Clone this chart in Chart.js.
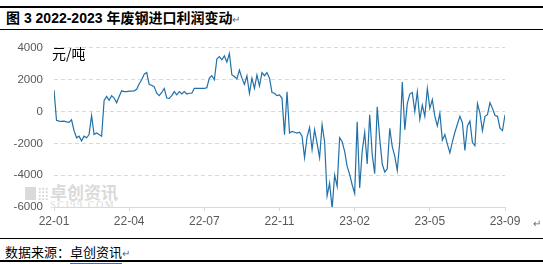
<!DOCTYPE html>
<html>
<head>
<meta charset="utf-8">
<script src="https://cdn.jsdelivr.net/npm/chart.js"></script>
<style>
  body { margin: 0; width: 543px; height: 264px; background: #fff; position: relative; overflow: hidden;
         font-family: "Liberation Sans", "Noto Sans CJK SC", sans-serif; }
  .rule { position: absolute; left: 0; width: 543px; background: #000; }
  .title { position: absolute; left: 6px; top: 10px; font-size: 14px; line-height: 16px; font-weight: bold; color: #000; white-space: nowrap; }
  .mark { font-weight: normal; font-size: 10px; color: #666; }
  .unit { position: absolute; left: 52px; top: 45px; font: 14px/16px "Noto Sans CJK SC", sans-serif; color: #000; }
  .wm { position: absolute; color: #dadada; white-space: nowrap; }
  .logo1 { position: absolute; left: 25px; top: 187px; width: 11px; height: 13px; background: #dadada; }
  .logo2 { position: absolute; left: 38px; top: 187px; width: 10px; height: 13px;
           background-image: radial-gradient(#d2d2d2 1.2px, transparent 1.3px); background-size: 3.5px 3.5px; }
  #wrap { position: absolute; left: 0; top: 30px; width: 543px; height: 200px; }
  .foot { position: absolute; left: 5px; top: 244px; font: 13px/16px "Noto Sans CJK SC", sans-serif; color: #000; white-space: nowrap; }
  .src { border-bottom: 3px double #3b68d8; }
</style>
</head>
<body>
<div class="rule" style="top:6px;height:2px"></div>
<div class="title">图 3 2022-2023 年废钢进口利润变动<span class="mark">↵</span></div>
<div class="rule" style="top:29px;height:1px"></div>

<div class="logo1"></div>
<div class="logo2"></div>
<div class="wm" style="left:50px;top:182px;font:bold 17px/20px 'Noto Sans CJK SC',sans-serif;">卓创资讯</div>
<div class="wm" style="left:50px;top:199px;font:10px/11px 'Liberation Serif',serif;letter-spacing:1.6px;">SCI99.COM</div>

<div id="wrap"><canvas id="grafico" width="543" height="200"></canvas></div>
<div class="unit">元/吨</div>
<div class="wm" style="left:533px;top:218px;font-size:10px;color:#666;">↵</div>

<div class="rule" style="top:238px;height:1px"></div>
<div class="foot">数据来源：<span class="src">卓创资讯</span><span class="mark">↵</span></div>
<div class="rule" style="top:260px;height:1.5px"></div>

<script>
// rótulos do eixo x, um a cada 30 pontos
const xTickLabels = ['22-01', '22-04', '22-07', '22-11', '23-02', '23-05', '23-09'];
const passoTicks = 30;

// lucro de importação de sucata (元/吨)
const lucro = [
  1350, -550, -600, -620, -600, -650, -680, -520, -1200, -1650,
  -1550, -1850, -1550, -1650, -1450, -250, -1450, -1350, -1450, -1550,
  700, 950, 700, 1000, 850, 550, 950, 1300, 1250, 1250,
  1280, 1280, 1300, 1400, 1750, 2000, 2350, 2450, 1700, 1650,
  1550, 1150, 1000, 1200, 1450, 850, 830, 1000, 1250, 1050,
  1250, 1100, 1250, 1100, 1150, 1150, 1450, 1450, 1450, 1450,
  1450, 1500, 2100, 2250, 2000, 3300, 3450, 3250, 3500, 3100,
  3650, 2300, 2200, 2050, 2600, 2100, 1700, 2250, 1150, 2100,
  1450, 2300, 1600, 2450, 2250, 2450, 2100, 1200, 1150, 1000,
  1050, 830, -1450, 1240, -1350, -1250, -1300, -1350, -1300, -1550,
  -2900, -1600, -1000, -2400, -1140, -2000, -2900, -830, -1900, -5300,
  -4500, -6100, -4000, -4700, -1650, -1900, -2500, -3450, -3950, -4600,
  -5150, -650, -4800, -2500, -1300, -3300, -200, -2700, -3900, 300,
  -1700, -3300, -3800, -3600, -1050, -2200, -2800, -3700, -1900, 1850,
  -1150, 500, 1100, 1200, 0, 1240, -500, 400, -300, 1450,
  200, 750, -300, -900, -100, -1800, -1450, -2050, -2600, -1900,
  -1300, -800, -300, -700, -2450, -900, -600, -1950, -2150, 500,
  -100, -1200, -300, -200, 550, 200, -250, -300, -1050, -1200,
  -200
];

const fonteNum = { family: "'Liberation Sans', Arial, sans-serif", size: 12 };

const ctx = document.getElementById('grafico').getContext('2d');
new Chart(ctx, {
  type: 'line',
  data: {
    datasets: [{
      data: lucro.map((v, i) => ({ x: i, y: v })),
      borderColor: '#2171a8',
      borderWidth: 1.2,
      pointRadius: 0,
      tension: 0,
      fill: false
    }]
  },
  options: {
    responsive: false,
    animation: false,
    layout: { padding: { top: 16, right: 38, bottom: 0, left: 0 } },
    plugins: { legend: { display: false }, tooltip: { enabled: false } },
    scales: {
      x: {
        type: 'linear',
        min: 0,
        max: (xTickLabels.length - 1) * passoTicks,
        afterFit: (s) => { s.height = 23; },
        border: { display: true, color: '#d9d9d9' },
        grid: { drawOnChartArea: false, drawTicks: true, tickLength: 4, color: '#d9d9d9' },
        ticks: {
          stepSize: passoTicks,
          autoSkip: false,
          maxRotation: 0,
          padding: 3,
          color: '#595959',
          font: fonteNum,
          callback: (v) => xTickLabels[v / passoTicks]
        }
      },
      y: {
        min: -6000,
        max: 4000,
        afterFit: (s) => { s.width = 54; },
        border: { display: false, dash: [4, 3] },
        grid: { color: '#d9d9d9', drawTicks: false },
        ticks: {
          stepSize: 2000,
          padding: 11,
          color: '#595959',
          font: { family: fonteNum.family, size: 11.5 },
          callback: (v) => String(v)
        }
      }
    }
  }
});
</script>
</body>
</html>
